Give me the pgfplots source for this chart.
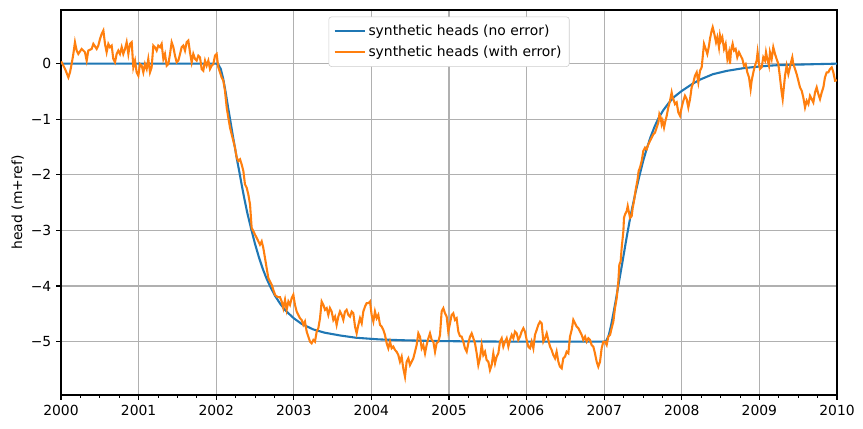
\documentclass[border=0pt]{standalone}
\usepackage{fontspec}
\setmainfont{DejaVu Sans}
\usepackage{pgfplots}
\pgfplotsset{compat=1.18}
\definecolor{C0}{HTML}{1F77B4}
\definecolor{C1}{HTML}{FF7F0E}
\definecolor{gridc}{HTML}{B0B0B0}
\begin{document}
\fontsize{10}{12}\selectfont
\begin{tikzpicture}
\begin{axis}[
  scale only axis,
  width=558.72pt, height=277.2pt,
  xmin=2000, xmax=2010,
  ymin=-5.96, ymax=0.965,
  xtick={2000,2001,2002,2003,2004,2005,2006,2007,2008,2009,2010},
  xticklabels={2000,2001,2002,2003,2004,2005,2006,2007,2008,2009,2010},
  minor x tick num=3,
  ytick={-5,-4,-3,-2,-1,0},
  yticklabels={−5,−4,−3,−2,−1,0},
  tick align=outside,
  tick pos=left,
  major tick length=3.5pt,
  minor tick length=2pt,
  every tick/.style={black, line width=0.8pt},
  minor tick style={black, line width=0.6pt},
  grid=major,
  major grid style={gridc, line width=0.8pt},
  axis line style={black, line width=0.8pt},
  tick label style={font=\fontsize{10}{12}\selectfont},
  xticklabel style={yshift=-0.5pt},
  ylabel={head (m+ref)},
  ylabel style={font=\fontsize{10}{12}\selectfont, yshift=-2pt},
  legend style={at={(0.5,0.983)}, anchor=north, draw=black!20, rounded corners=2pt,
    font=\fontsize{10}{12}\selectfont, row sep=2.4pt, inner xsep=3.5pt, inner ysep=3.6pt},
  legend cell align=left,
  legend image code/.code={\draw[#1, line width=1.5pt] (0pt,0pt) -- (21.6pt,0pt);},
]
\coordinate (sw) at (rel axis cs:0,0);
\coordinate (ne) at (rel axis cs:1,1);
\addplot[C0, line width=1.5pt] coordinates {
(2000.0,0) (2002.0,0) (2002.03,-0.02) (2002.06,-0.10) (2002.09,-0.27) (2002.12,-0.50)
(2002.15,-0.76) (2002.18,-1.01) (2002.21,-1.26) (2002.24,-1.50) (2002.27,-1.74)
(2002.30,-1.96) (2002.33,-2.19) (2002.36,-2.41) (2002.40,-2.68) (2002.45,-2.97)
(2002.50,-3.24) (2002.55,-3.48) (2002.60,-3.69) (2002.65,-3.87) (2002.70,-4.02)
(2002.76,-4.18) (2002.83,-4.33) (2002.90,-4.45) (2003.00,-4.58) (2003.10,-4.68)
(2003.25,-4.78) (2003.40,-4.84) (2003.60,-4.89) (2003.80,-4.93) (2004.10,-4.96)
(2004.40,-4.975) (2004.80,-4.988) (2005.20,-4.995) (2005.8,-5.0)
(2007.00,-5.00) (2007.03,-4.98) (2007.06,-4.88) (2007.09,-4.70) (2007.12,-4.48)
(2007.15,-4.25) (2007.18,-4.01) (2007.21,-3.77) (2007.24,-3.53) (2007.27,-3.28)
(2007.30,-3.04) (2007.33,-2.81) (2007.36,-2.60) (2007.40,-2.34) (2007.45,-2.04)
(2007.50,-1.76) (2007.55,-1.52) (2007.60,-1.31) (2007.65,-1.13) (2007.70,-0.98)
(2007.76,-0.84) (2007.83,-0.71) (2007.90,-0.60) (2008.00,-0.49) (2008.13,-0.37)
(2008.23,-0.29) (2008.40,-0.19) (2008.58,-0.13) (2008.80,-0.08) (2009.01,-0.05)
(2009.20,-0.03) (2009.43,-0.02) (2009.70,-0.01) (2010.0,0)
};
\addlegendentry{synthetic heads (no error)}
\addplot[C1, line width=1.5pt] coordinates {
(2000.000,0.02) (2000.009,0.024) (2000.052,-0.096) (2000.095,-0.247) (2000.116,-0.156)
(2000.137,-0.006) (2000.159,0.174) (2000.180,0.385) (2000.202,0.235) (2000.223,0.174)
(2000.266,0.265) (2000.309,0.205) (2000.331,0.054) (2000.352,0.235) (2000.395,0.265)
(2000.417,0.355) (2000.460,0.265) (2000.481,0.325) (2000.503,0.445) (2000.524,0.536)
(2000.546,0.596) (2000.567,0.355) (2000.588,0.205) (2000.610,0.355) (2000.631,0.295)
(2000.653,0.325) (2000.674,0.084) (2000.696,0.024) (2000.717,0.174) (2000.739,0.235)
(2000.760,0.174) (2000.782,0.295) (2000.803,0.174) (2000.825,0.265) (2000.846,0.385)
(2000.868,0.174) (2000.889,0.355) (2000.911,0.385) (2000.932,-0.066) (2000.954,0.054)
(2000.975,-0.156) (2000.997,-0.217) (2001.018,-0.006) (2001.040,-0.036) (2001.061,-0.156)
(2001.082,-0.006) (2001.104,-0.096) (2001.125,0.084) (2001.147,-0.156) (2001.168,-0.066)
(2001.190,0.325) (2001.211,0.295) (2001.233,0.235) (2001.254,0.325) (2001.276,0.295)
(2001.297,0.355) (2001.319,0.084) (2001.340,0.174) (2001.362,-0.036) (2001.383,-0.006)
(2001.405,0.174) (2001.426,0.385) (2001.448,0.295) (2001.469,0.144) (2001.491,0.024)
(2001.512,0.054) (2001.534,0.174) (2001.555,0.295) (2001.576,0.325) (2001.598,0.235)
(2001.619,0.385) (2001.641,0.415) (2001.662,0.205) (2001.684,0.024) (2001.705,0.174)
(2001.727,0.084) (2001.748,0.054) (2001.770,0.144) (2001.791,0.114) (2001.813,-0.096)
(2001.834,-0.126) (2001.856,0.054) (2001.877,-0.036) (2001.899,0.054) (2001.920,-0.096)
(2001.942,-0.036) (2001.963,-0.006) (2001.985,0.144) (2002.006,0.174) (2002.027,-0.066)
(2002.049,-0.156) (2002.070,-0.247) (2002.092,-0.307) (2002.113,-0.487) (2002.135,-0.788)
(2002.156,-0.969) (2002.178,-1.149) (2002.199,-1.270) (2002.221,-1.390) (2002.242,-1.510)
(2002.264,-1.691) (2002.285,-1.751) (2002.307,-1.721) (2002.328,-1.811) (2002.350,-1.931)
(2002.371,-2.172) (2002.393,-2.232) (2002.414,-2.353) (2002.436,-2.533) (2002.457,-2.954)
(2002.479,-3.014) (2002.500,-3.075) (2002.522,-3.135) (2002.543,-3.195) (2002.564,-3.255)
(2002.586,-3.195) (2002.607,-3.315) (2002.629,-3.496) (2002.650,-3.676) (2002.672,-3.857)
(2002.693,-3.917) (2002.715,-3.977) (2002.736,-4.067) (2002.758,-4.158) (2002.790,-4.200)
(2002.822,-4.200)
(2002.844,-4.278) (2002.865,-4.398) (2002.887,-4.248) (2002.908,-4.428) (2002.930,-4.278)
(2002.951,-4.338) (2002.973,-4.218) (2002.994,-4.158) (2003.015,-4.338) (2003.037,-4.458)
(2003.058,-4.519) (2003.080,-4.579) (2003.101,-4.609) (2003.123,-4.699) (2003.144,-4.639)
(2003.166,-4.819) (2003.187,-4.910) (2003.209,-5.000) (2003.230,-5.030) (2003.252,-4.970)
(2003.273,-5.000) (2003.295,-4.819) (2003.316,-4.759) (2003.338,-4.579) (2003.359,-4.278)
(2003.381,-4.338) (2003.402,-4.428) (2003.424,-4.398) (2003.445,-4.519) (2003.466,-4.398)
(2003.488,-4.458) (2003.509,-4.609) (2003.531,-4.549) (2003.552,-4.699) (2003.574,-4.549)
(2003.595,-4.458) (2003.617,-4.519) (2003.638,-4.609) (2003.660,-4.458) (2003.681,-4.428)
(2003.703,-4.519) (2003.724,-4.549) (2003.746,-4.458) (2003.767,-4.489) (2003.789,-4.729)
(2003.810,-4.850) (2003.832,-4.699) (2003.853,-4.579) (2003.875,-4.669) (2003.896,-4.458)
(2003.918,-4.368) (2003.939,-4.308) (2003.961,-4.308) (2003.982,-4.278) (2004.003,-4.519)
(2004.025,-4.639) (2004.046,-4.458) (2004.068,-4.579) (2004.089,-4.519) (2004.111,-4.699)
(2004.132,-4.729) (2004.154,-4.789) (2004.175,-4.880) (2004.197,-5.030) (2004.218,-5.120)
(2004.240,-5.000) (2004.261,-5.120) (2004.282,-5.090) (2004.304,-5.150) (2004.325,-5.181)
(2004.347,-5.241) (2004.368,-5.361) (2004.390,-5.271) (2004.411,-5.481) (2004.433,-5.632)
(2004.454,-5.361) (2004.476,-5.301) (2004.497,-5.421) (2004.519,-5.361) (2004.540,-5.301)
(2004.562,-5.181) (2004.583,-5.060) (2004.605,-4.850) (2004.626,-4.910) (2004.648,-5.120)
(2004.669,-5.060) (2004.691,-5.211) (2004.712,-5.060) (2004.734,-4.940) (2004.755,-4.850)
(2004.777,-4.970) (2004.798,-5.000) (2004.820,-5.181) (2004.840,-5.030) (2004.863,-5.000)
(2004.884,-4.880) (2004.905,-4.458) (2004.927,-4.398) (2004.948,-4.489) (2004.970,-4.549)
(2004.991,-4.819) (2005.013,-4.669) (2005.034,-4.519) (2005.055,-4.489) (2005.077,-4.609)
(2005.098,-4.579) (2005.120,-4.819) (2005.141,-4.900)
(2005.163,-4.910) (2005.185,-5.000) (2005.206,-5.120) (2005.228,-5.181) (2005.249,-5.030)
(2005.271,-4.910) (2005.292,-4.850) (2005.314,-4.940) (2005.335,-5.030) (2005.357,-5.211)
(2005.378,-5.421) (2005.399,-5.301) (2005.421,-5.060) (2005.442,-5.241) (2005.464,-5.181)
(2005.485,-5.331) (2005.507,-5.361) (2005.528,-5.512) (2005.550,-5.421) (2005.571,-5.211)
(2005.593,-5.391) (2005.614,-5.271) (2005.636,-5.211) (2005.657,-5.000) (2005.679,-4.940)
(2005.700,-5.090) (2005.722,-5.000) (2005.743,-4.940) (2005.765,-5.090) (2005.786,-4.970)
(2005.808,-4.880) (2005.829,-4.940) (2005.851,-4.819) (2005.872,-4.850) (2005.893,-4.970)
(2005.915,-4.910) (2005.936,-4.819) (2005.958,-4.759) (2005.979,-4.819) (2006.001,-4.970)
(2006.022,-5.090) (2006.044,-5.120) (2006.065,-5.000) (2006.087,-5.120) (2006.108,-4.880)
(2006.130,-4.789) (2006.151,-4.699) (2006.173,-4.639) (2006.194,-4.669) (2006.216,-5.000)
(2006.237,-4.940) (2006.259,-4.850) (2006.280,-4.970) (2006.302,-5.090) (2006.323,-5.151)
(2006.344,-5.241) (2006.366,-5.301) (2006.387,-5.181) (2006.409,-5.361) (2006.430,-5.451)
(2006.452,-5.481) (2006.473,-5.301) (2006.495,-5.271) (2006.516,-5.181) (2006.538,-5.211)
(2006.559,-4.910) (2006.581,-4.789) (2006.602,-4.609) (2006.624,-4.669) (2006.645,-4.729)
(2006.667,-4.759) (2006.688,-4.819) (2006.710,-4.880) (2006.731,-4.970) (2006.753,-4.910)
(2006.774,-5.000) (2006.796,-4.940) (2006.817,-4.970) (2006.838,-5.060) (2006.860,-5.090)
(2006.881,-5.211) (2006.903,-5.361) (2006.924,-5.451) (2006.946,-5.361) (2006.967,-5.120)
(2006.989,-5.000)
(2007.010,-5.000) (2007.032,-5.060) (2007.053,-4.910) (2007.075,-4.880) (2007.096,-4.759)
(2007.118,-4.639) (2007.139,-4.398) (2007.161,-4.218) (2007.182,-3.917) (2007.195,-3.616)
(2007.212,-3.556) (2007.225,-3.315) (2007.247,-3.014) (2007.255,-2.774) (2007.268,-2.714)
(2007.290,-2.653) (2007.303,-2.563) (2007.320,-2.683) (2007.333,-2.774) (2007.354,-2.744)
(2007.367,-2.593) (2007.384,-2.473) (2007.397,-2.353) (2007.410,-2.232) (2007.427,-2.112)
(2007.444,-1.931) (2007.461,-1.870)
(2007.483,-1.751) (2007.504,-1.570) (2007.526,-1.510) (2007.547,-1.540) (2007.569,-1.450)
(2007.590,-1.390) (2007.612,-1.330) (2007.633,-1.270) (2007.655,-1.239) (2007.676,-1.149)
(2007.698,-1.059) (2007.711,-0.909) (2007.728,-0.969) (2007.740,-1.089) (2007.753,-1.029)
(2007.771,-1.149) (2007.784,-1.059) (2007.805,-0.939) (2007.826,-0.788) (2007.848,-0.668)
(2007.869,-0.517) (2007.882,-0.608) (2007.899,-0.668) (2007.912,-0.728) (2007.934,-0.698)
(2007.955,-0.878) (2007.977,-0.939) (2007.998,-0.788)
(2008.020,-0.668) (2008.041,-0.578) (2008.063,-0.638) (2008.084,-0.788) (2008.106,-0.638)
(2008.127,-0.427) (2008.149,-0.337) (2008.170,-0.217) (2008.192,-0.156) (2008.213,-0.337)
(2008.235,-0.126) (2008.256,-0.066) (2008.269,0.114) (2008.286,0.355) (2008.308,0.265)
(2008.329,0.174) (2008.351,0.325) (2008.363,0.445) (2008.385,0.596) (2008.398,0.656)
(2008.419,0.536) (2008.441,0.385) (2008.458,0.475) (2008.479,0.295) (2008.492,0.505)
(2008.505,0.415) (2008.522,0.475) (2008.544,0.265) (2008.565,0.355) (2008.587,0.084)
(2008.608,0.205) (2008.621,-0.006) (2008.634,0.235) (2008.655,0.355) (2008.672,0.235)
(2008.694,0.265) (2008.715,0.114) (2008.737,0.205) (2008.758,0.144) (2008.780,0.084)
(2008.801,-0.036) (2008.823,-0.006) (2008.844,-0.156) (2008.866,-0.247) (2008.887,-0.457)
(2008.900,-0.307) (2008.922,-0.156) (2008.943,-0.036) (2008.965,0.054) (2008.977,0.205)
(2008.995,-0.006) (2009.007,-0.096) (2009.029,-0.066) (2009.050,0.114) (2009.072,0.054)
(2009.085,0.205) (2009.102,0.084) (2009.123,-0.036) (2009.136,0.205) (2009.158,0.084)
(2009.179,0.295) (2009.201,0.174) (2009.222,0.084) (2009.244,-0.006) (2009.265,-0.247)
(2009.287,-0.517) (2009.300,-0.638) (2009.317,-0.397) (2009.330,-0.217) (2009.351,-0.036)
(2009.373,-0.187) (2009.394,-0.066) (2009.407,0.024) (2009.424,0.114) (2009.437,-0.006)
(2009.459,-0.096) (2009.480,-0.187) (2009.502,-0.307) (2009.523,-0.427) (2009.545,-0.487)
(2009.566,-0.608) (2009.588,-0.788) (2009.609,-0.668) (2009.631,-0.728) (2009.652,-0.578)
(2009.674,-0.638) (2009.695,-0.698) (2009.717,-0.517) (2009.738,-0.427) (2009.760,-0.548)
(2009.781,-0.638) (2009.803,-0.517) (2009.824,-0.427) (2009.845,-0.247) (2009.867,-0.156)
(2009.888,-0.156) (2009.910,-0.096) (2009.932,-0.066) (2009.953,-0.156) (2009.975,-0.307)
(2010.000,-0.300)
};
\addlegendentry{synthetic heads (with error)}
\end{axis}
\pgfresetboundingbox
\useasboundingbox ([shift={(-43.92pt,-23.76pt)}]sw) rectangle ([shift={(18.72pt,7.2pt)}]ne);
\end{tikzpicture}
\end{document}
